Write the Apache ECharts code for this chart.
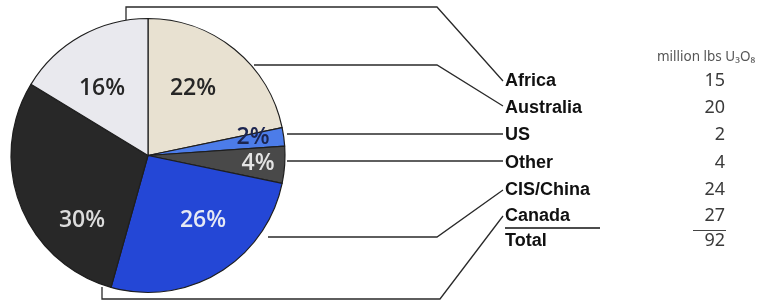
<!DOCTYPE html>
<html>
<head>
<meta charset="utf-8">
<script src="https://cdn.jsdelivr.net/npm/echarts@6/dist/echarts.min.js"></script>
<style>
  html, body { margin: 0; padding: 0; background: #fff; }
  #chart { width: 768px; height: 303px; }
</style>
</head>
<body>
<div id="chart"></div>
<script>
// table order (as listed on the right)
const regions = ['Africa', 'Australia', 'US', 'Other', 'CIS/China', 'Canada']
const amounts = [15, 20, 2, 4, 24, 27] // million lbs U3O8
const pctLabels = ['16%', '22%', '2%', '4%', '26%', '30%']
const unitLabel = 'million lbs U₃O₈'
// clockwise order of the slices, starting at 12 o'clock
const pieOrder = [1, 2, 3, 4, 5, 0]

const sliceColors = ['#e9e9ee', '#e8e1d1', '#4c7ce9', '#494949', '#2447d6', '#282828']
const pctColors = ['#262626', '#262626', '#1c2550', '#e4e4e4', '#e6e9f4', '#dcdcdc']

// layout bits (pixels)
const pieCenter = [148, 155.5]
const pieRadius = 137
const nameX = 505
const valueX = 725
const rowY = [81, 108, 135, 163, 190, 216]
const totalY = 241
// inner percentage label spots, table order
const pctPos = [[102, 88], [193, 88], [253, 137], [258, 163], [203, 220], [82, 220]]
// leader lines from the pie to the names, table order
const leaders = [
  [[126, 20], [126, 7], [437, 7], [503, 81]],
  [[254, 65], [437, 65], [503, 106]],
  [[287, 134], [503, 134]],
  [[287, 161], [503, 161]],
  [[268, 237], [437, 237], [503, 190]],
  [[102, 287], [102, 299], [440, 299], [503, 216]]
]

const nameFont = 'Liberation Sans'
const numFont = 'Noto Sans'

const total = amounts.reduce((a, b) => a + b, 0)

const pieData = pieOrder.map(i => ({
  name: regions[i],
  value: amounts[i],
  itemStyle: { color: sliceColors[i] },
  label: { color: pctColors[i] }
}))

const chart = echarts.init(document.getElementById('chart'), null, { renderer: 'canvas' })

const option = {
  animation: false,
  backgroundColor: '#fff',
  series: [{
    // the pie itself with % labels
    type: 'pie',
    center: pieCenter,
    radius: pieRadius,
    startAngle: 90,
    clockwise: true,
    silent: true,
    avoidLabelOverlap: false,
    itemStyle: { borderColor: '#1e1e1e', borderWidth: 1.2 },
    label: {
      show: true,
      position: 'inside',
      formatter: p => pctLabels[pieOrder[p.dataIndex]],
      fontFamily: 'Open Sans',
      fontWeight: 600,
      fontSize: 23
    },
    labelLine: { show: false },
    emphasis: { disabled: true },
    labelLayout: p => {
      const pos = pctPos[pieOrder[p.dataIndex]]
      return { x: pos[0], y: pos[1], align: 'center', verticalAlign: 'middle' }
    },
    data: pieData
  }, {
    // transparent copy carrying the names + leader lines
    type: 'pie',
    center: pieCenter,
    radius: pieRadius,
    startAngle: 90,
    clockwise: true,
    silent: true,
    z: 1,
    avoidLabelOverlap: false,
    itemStyle: { color: 'rgba(0,0,0,0)', borderWidth: 0 },
    label: {
      show: true,
      position: 'outside',
      formatter: '{b}',
      fontFamily: nameFont,
      fontWeight: 'bold',
      fontSize: 18,
      color: '#111'
    },
    labelLine: { show: true, lineStyle: { color: '#2a2a2a', width: 1.3 } },
    emphasis: { disabled: true },
    labelLayout: p => {
      const i = pieOrder[p.dataIndex]
      return {
        x: nameX,
        y: rowY[i],
        align: 'left',
        verticalAlign: 'middle',
        labelLinePoints: leaders[i]
      }
    },
    data: pieOrder.map(i => ({ name: regions[i], value: amounts[i] }))
  }],
  graphic: [
    {
      type: 'text', x: 657, y: 57,
      style: { text: unitLabel, font: '13.5px "' + numFont + '"', fill: '#555', verticalAlign: 'middle' }
    },
    ...amounts.map((v, i) => ({
      type: 'text', x: valueX, y: rowY[i],
      style: { text: String(v), font: '18px "' + numFont + '"', fill: '#3a3a3a', align: 'right', verticalAlign: 'middle' }
    })),
    {
      type: 'text', x: nameX, y: totalY,
      style: { text: 'Total', font: 'bold 18px "' + nameFont + '"', fill: '#111', verticalAlign: 'middle' }
    },
    {
      type: 'text', x: valueX, y: totalY,
      style: { text: String(total), font: '18px "' + numFont + '"', fill: '#3a3a3a', align: 'right', verticalAlign: 'middle' }
    },
    // underlines above the totals
    { type: 'line', shape: { x1: 505, y1: 228, x2: 600, y2: 228 }, style: { stroke: '#111', lineWidth: 1.6 } },
    { type: 'line', shape: { x1: 693, y1: 230.5, x2: 726, y2: 230.5 }, style: { stroke: '#444', lineWidth: 1.2 } }
  ]
}

chart.setOption(option)
</script>
</body>
</html>
